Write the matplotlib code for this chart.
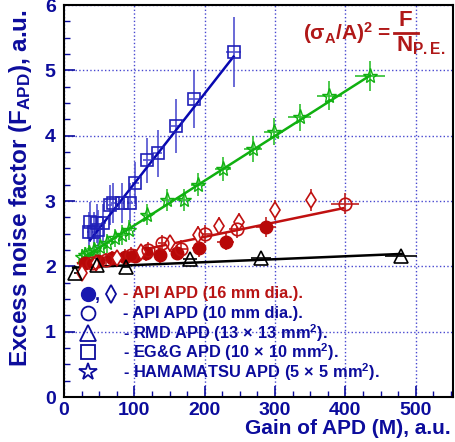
"""
Excess noise factor vs APD gain for several APD types.
"""

import matplotlib
matplotlib.use("Agg")
import matplotlib.pyplot as plt
import numpy as np

plt.rcParams['font.family'] = ['Liberation Sans', 'DejaVu Sans']
plt.rcParams['font.weight'] = 'bold'
plt.rcParams['mathtext.fontset'] = 'custom'
plt.rcParams['mathtext.rm'] = 'Liberation Sans:bold'
plt.rcParams['mathtext.it'] = 'Liberation Sans:bold'
plt.rcParams['mathtext.bf'] = 'Liberation Sans:bold'
plt.rcParams['mathtext.sf'] = 'Liberation Sans:bold'

BLUE = '#0c0c9c'
RED = '#b81414'
GREEN = '#10b010'

# EG&G APD (squares)
egg_gain = [35, 42, 37, 47, 49, 56, 65, 70, 82, 94, 101, 118, 133, 159, 185, 241]
egg_f = [2.53, 2.53, 2.68, 2.66, 2.56, 2.66, 2.94, 2.97, 2.97, 2.97, 3.28, 3.62, 3.73, 4.15, 4.56, 5.28]
egg_ferr = [0.30, 0.30, 0.30, 0.30, 0.30, 0.30, 0.30, 0.30, 0.30, 0.30, 0.32, 0.34, 0.36, 0.41, 0.45, 0.53]
egg_gerr = [2, 2, 2, 2, 2, 3, 3, 3, 4, 4, 5, 5, 6, 7, 8, 10]
egg_fit_x = [37, 241]
egg_fit_y = [2.40, 5.21]

# HAMAMATSU APD (stars)
ham_gain = [26, 30, 36, 42, 51, 61, 72, 82, 92, 118, 147, 170, 191, 226, 269, 298, 335, 377, 435]
ham_f = [2.14, 2.17, 2.20, 2.25, 2.30, 2.35, 2.43, 2.48, 2.56, 2.79, 3.02, 3.02, 3.25, 3.49, 3.80, 4.06, 4.28, 4.61, 4.92]
ham_ferr = [0.12, 0.12, 0.12, 0.13, 0.13, 0.14, 0.14, 0.15, 0.15, 0.16, 0.17, 0.17, 0.18, 0.19, 0.20, 0.21, 0.21, 0.22, 0.23]
ham_gerr = [2, 2, 2, 3, 3, 4, 4, 5, 5, 7, 8, 9, 10, 12, 13, 14, 16, 18, 21]
ham_fit_x = [23, 435]
ham_fit_y = [2.10, 4.92]

# API APD 16 mm (filled circles and diamonds)
api16_gain = [30, 48, 68, 87, 101, 117, 137, 160, 192, 230, 287]
api16_f = [2.05, 2.08, 2.12, 2.15, 2.16, 2.20, 2.17, 2.21, 2.28, 2.38, 2.60]
api16_ferr = [0.10, 0.10, 0.11, 0.11, 0.11, 0.12, 0.12, 0.12, 0.13, 0.13, 0.15]
api16_gerr = [2, 3, 4, 5, 6, 6, 7, 8, 10, 12, 14]
dia_gain = [25, 45, 75, 110, 151, 190, 221, 249, 300, 351]
dia_f = [1.90, 2.05, 2.12, 2.22, 2.35, 2.48, 2.62, 2.68, 2.86, 3.01]
dia_ferr = [0.10, 0.11, 0.11, 0.12, 0.13, 0.13, 0.14, 0.14, 0.15, 0.17]

# API APD 10 mm (open circles)
api10_gain = [40, 60, 95, 120, 140, 167, 201, 246, 399]
api10_f = [2.05, 2.10, 2.18, 2.25, 2.35, 2.27, 2.50, 2.57, 2.96]
api10_ferr = [0.10, 0.11, 0.11, 0.12, 0.13, 0.13, 0.14, 0.14, 0.16]
api10_gerr = [2, 3, 5, 6, 7, 8, 10, 12, 20]
api_fit_x = [20, 397]
api_fit_y = [2.05, 2.89]

# RMD APD (triangles)
rmd_gain = [16, 47, 88, 179, 280, 479]
rmd_f = [1.90, 2.02, 1.99, 2.11, 2.12, 2.16]
rmd_gerr = [2, 3, 5, 10, 14, 23]
rmd_fit_x = [13, 480]
rmd_fit_y = [1.98, 2.19]

legend_labels = [
    r'- API APD (16 mm dia.).',
    r'- API APD (10 mm dia.).',
    r'- RMD APD (13$\,\times\,$13 mm$^2$).',
    r'- EG&G APD (10$\,\times\,$10 mm$^2$).',
    r'- HAMAMATSU APD (5$\,\times\,$5 mm$^2$).',
]

W, H = 456, 442
fig = plt.figure(figsize=(W / 100, H / 100), dpi=100)
ax = fig.add_axes([64 / W, 45 / H, 389 / W, 392 / H])

eb = dict(fmt='none', elinewidth=1.2, capsize=0)

# fit lines
ax.plot(rmd_fit_x, rmd_fit_y, color='black', lw=1.8, zorder=3)
ax.plot(api_fit_x, api_fit_y, color='#c01010', lw=1.8, zorder=3)
ax.plot(ham_fit_x, ham_fit_y, color=GREEN, lw=1.8, zorder=3)
ax.plot(egg_fit_x, egg_fit_y, color='#0808b0', lw=1.8, zorder=3)

# EG&G
ax.errorbar(egg_gain, egg_f, yerr=egg_ferr, xerr=egg_gerr, ecolor='#5050d0', **eb)
ax.plot(egg_gain, egg_f, 's', ms=9, mfc='none', mec='#2020b8', mew=1.2, zorder=4)

# HAMAMATSU
ax.errorbar(ham_gain, ham_f, yerr=ham_ferr, xerr=ham_gerr, ecolor='#30c030', **eb)
ax.plot(ham_gain, ham_f, '*', ms=11, mfc='none', mec=GREEN, mew=1.0, zorder=4)

# API 16 mm
ax.errorbar(api16_gain, api16_f, yerr=api16_ferr, xerr=api16_gerr, ecolor='#c02020', **eb)
ax.plot(api16_gain, api16_f, 'o', ms=9, color='#b80808', zorder=4)
ax.errorbar(dia_gain, dia_f, yerr=dia_ferr, ecolor='#c02020', **eb)
ax.plot(dia_gain, dia_f, 'd', ms=8, mfc='white', mec='#c01010', mew=1.2, zorder=4)

# API 10 mm
ax.errorbar(api10_gain, api10_f, yerr=api10_ferr, xerr=api10_gerr, ecolor='#c02020', **eb)
ax.plot(api10_gain, api10_f, 'o', ms=9, mfc='none', mec='#c01010', mew=1.2, zorder=4)

# RMD
ax.errorbar(rmd_gain, rmd_f, xerr=rmd_gerr, ecolor='black', **eb)
ax.plot(rmd_gain, rmd_f, '^', ms=10, mfc='none', mec='black', mew=1.2, zorder=4)

ax.set_xlim(0, 553)
ax.set_ylim(0, 6)
ax.set_xticks(np.arange(0, 501, 100))
ax.set_xticks(np.arange(0, 551, 25), minor=True)
ax.set_yticks(np.arange(0, 7, 1))
ax.set_yticks(np.arange(0, 6.01, 0.25), minor=True)
ax.tick_params(which='both', direction='in', colors=BLUE, labelsize=14)
ax.tick_params(which='major', length=8, width=1.2)
ax.tick_params(which='minor', length=4, width=1)
ax.tick_params(axis='y', pad=6)
for lab in ax.get_xticklabels() + ax.get_yticklabels():
    lab.set_fontweight('bold')
for sp in ax.spines.values():
    sp.set_color('black')
    sp.set_linewidth(1.5)
ax.grid(True, which='major', linestyle=':', color='#4848d0', lw=1.0)
ax.set_axisbelow(True)

# axis titles placed in figure pixels, like the ROOT original
fig.text(451 / W, 1 - 428 / H, 'Gain of APD (M), a.u.', fontsize=15, color=BLUE,
         fontweight='bold', ha='right', va='center')
fig.text(21 / W, 1 - 9 / H, r'Excess noise factor (F$_{APD}$), a.u.', fontsize=17.5,
         color=BLUE, fontweight='bold', rotation=90, ha='center', va='top')

# formula (sigma_A/A)^2 = F / N_P.E.
FCOL = '#b01818'
fig.text(303 / W, 1 - 33 / H, r'$(\sigma_A/A)^2$ =', fontsize=15, color=FCOL,
         va='center', ha='left')
fig.text(405 / W, 1 - 21 / H, 'F', fontsize=16, color=FCOL, va='center', ha='center')
fig.add_artist(plt.Line2D([394 / W, 418 / W], [1 - 33 / H, 1 - 33 / H], color=FCOL,
                          lw=2, transform=fig.transFigure))
fig.text(396 / W, 1 - 46 / H, r'N$_{P.E.}$', fontsize=16, color=FCOL, va='center',
         ha='left')

# hand-drawn legend
ly = [0.263, 0.214, 0.164, 0.115, 0.064]
mx = 0.062
ax.plot(mx, ly[0], 'o', ms=10, color='#1818b0', transform=ax.transAxes, clip_on=False)
ax.text(0.078, ly[0] - 0.005, ',', transform=ax.transAxes, color=BLUE, fontsize=13,
        va='center')
ax.plot(0.121, ly[0], 'd', ms=9, mfc='none', mec=BLUE, mew=1.3, transform=ax.transAxes)
ax.plot(mx, ly[1], 'o', ms=10, mfc='none', mec=BLUE, mew=1.3, transform=ax.transAxes)
ax.plot(mx, ly[2], '^', ms=11, mfc='none', mec=BLUE, mew=1.3, transform=ax.transAxes)
ax.plot(mx, ly[3], 's', ms=10, mfc='none', mec=BLUE, mew=1.3, transform=ax.transAxes)
ax.plot(mx, ly[4], '*', ms=13, mfc='none', mec=BLUE, mew=1.3, transform=ax.transAxes)
for i, (y, lab) in enumerate(zip(ly, legend_labels)):
    ax.text(0.152, y, lab, transform=ax.transAxes, fontsize=11.8, va='center',
            color=RED if i == 0 else BLUE, fontweight='bold')

fig.savefig('out.png', dpi=100)
